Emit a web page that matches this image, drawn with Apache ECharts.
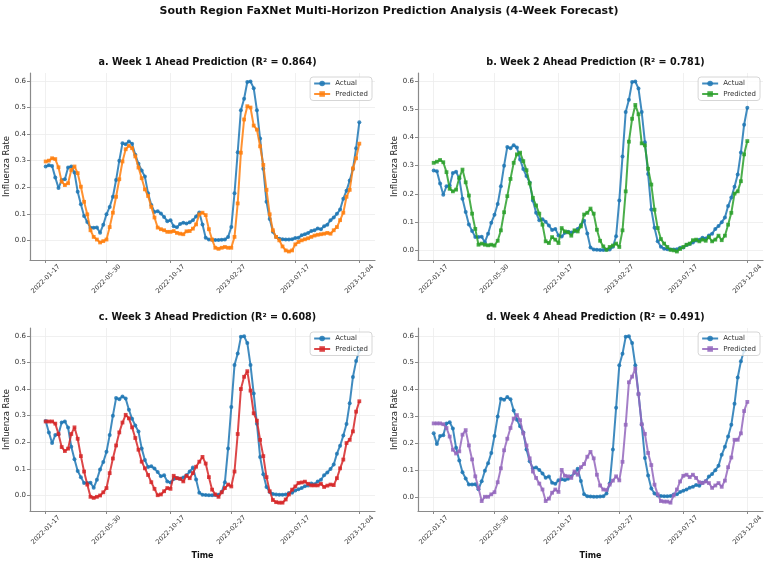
<!DOCTYPE html>
<html>
<head>
<meta charset="utf-8">
<script src="https://cdn.jsdelivr.net/npm/echarts@6/dist/echarts.min.js"></script>
<style>
html, body { margin: 0; padding: 0; background: #fff; }
#main { width: 767px; height: 561px; }
</style>
</head>
<body>
<div id="main"></div>
<script>
// weekly tick labels (index into the weekly series)
var dateTickIdx = [0, 19, 39, 58, 78, 98];
var dateLabels = ['2022-01-17', '2022-05-30', '2022-10-17', '2023-02-27', '2023-07-17', '2023-12-04'];
var yTicks = [0, 0.1, 0.2, 0.3, 0.4, 0.5, 0.6];

// observed rate, each horizon panel shows it shifted by (week - 1)
var actualAll = [
    0.278, 0.283, 0.280, 0.237, 0.197, 0.227, 0.230, 0.274, 0.278, 0.255,
    0.183, 0.136, 0.092, 0.069, 0.047, 0.047, 0.048, 0.029, 0.059, 0.098,
    0.126, 0.164, 0.227, 0.300, 0.366, 0.362, 0.372, 0.364, 0.322, 0.288,
    0.263, 0.240, 0.177, 0.133, 0.107, 0.110, 0.101, 0.088, 0.072, 0.076,
    0.053, 0.049, 0.062, 0.066, 0.063, 0.068, 0.076, 0.090, 0.105, 0.060,
    0.010, 0.003, 0.002, 0.001, 0.001, 0.002, 0.003, 0.013, 0.050, 0.177,
    0.332, 0.490, 0.533, 0.596, 0.598, 0.573, 0.490, 0.383, 0.270, 0.145,
    0.080, 0.032, 0.013, 0.006, 0.004, 0.003, 0.003, 0.004, 0.009, 0.010,
    0.019, 0.023, 0.028, 0.035, 0.038, 0.045, 0.042, 0.053, 0.059, 0.076,
    0.086, 0.100, 0.116, 0.157, 0.187, 0.225, 0.269, 0.347, 0.445, 0.505,
    0.545
];

var predWeek1 = [
    0.297, 0.300, 0.309, 0.306, 0.275, 0.221, 0.208, 0.215, 0.265, 0.278,
    0.253, 0.202, 0.145, 0.098, 0.038, 0.013, 0.003, -0.008, -0.003, 0.003,
    0.050, 0.104, 0.164, 0.230, 0.297, 0.343, 0.356, 0.347, 0.316, 0.274,
    0.234, 0.192, 0.167, 0.126, 0.086, 0.048, 0.042, 0.038, 0.032, 0.032,
    0.035, 0.028, 0.025, 0.023, 0.034, 0.035, 0.044, 0.060, 0.098, 0.104,
    0.095, 0.042, 0.003, -0.028, -0.032, -0.028, -0.025, -0.028, -0.028, 0.013,
    0.139, 0.330, 0.455, 0.505, 0.500, 0.432, 0.417, 0.354, 0.284, 0.190,
    0.098, 0.038, 0.013, 0.000, -0.023, -0.038, -0.042, -0.038, -0.015, -0.006,
    0.000, 0.004, 0.008, 0.013, 0.018, 0.021, 0.023, 0.025, 0.028, 0.025,
    0.038, 0.050, 0.076, 0.104, 0.164, 0.190, 0.271, 0.309, 0.364
];

var predWeek2 = [
    0.310, 0.314, 0.320, 0.312, 0.277, 0.218, 0.209, 0.215, 0.257, 0.286,
    0.241, 0.194, 0.130, 0.076, 0.020, 0.024, 0.020, 0.018, 0.020, 0.017,
    0.034, 0.071, 0.135, 0.192, 0.253, 0.310, 0.340, 0.346, 0.316, 0.284,
    0.237, 0.186, 0.159, 0.130, 0.091, 0.032, 0.026, 0.047, 0.038, 0.026,
    0.079, 0.067, 0.064, 0.052, 0.071, 0.067, 0.085, 0.127, 0.133, 0.148,
    0.130, 0.073, 0.034, 0.014, 0.002, 0.012, 0.017, 0.024, 0.012, 0.071,
    0.209, 0.385, 0.466, 0.515, 0.482, 0.379, 0.372, 0.289, 0.233, 0.144,
    0.079, 0.040, 0.024, 0.012, 0.002, 0.000, -0.004, 0.005, 0.012, 0.020,
    0.024, 0.036, 0.038, 0.032, 0.038, 0.034, 0.047, 0.032, 0.038, 0.052,
    0.036, 0.052, 0.091, 0.133, 0.201, 0.209, 0.245, 0.340, 0.387
];

var predWeek3 = [
    0.278, 0.278, 0.278, 0.270, 0.231, 0.182, 0.167, 0.176, 0.231, 0.256,
    0.213, 0.148, 0.090, 0.041, -0.005, -0.009, -0.005, 0.000, 0.012, 0.028,
    0.084, 0.139, 0.188, 0.237, 0.274, 0.303, 0.290, 0.256, 0.216, 0.172,
    0.127, 0.102, 0.077, 0.050, 0.025, 0.001, 0.004, 0.016, 0.028, 0.025,
    0.074, 0.065, 0.063, 0.053, 0.074, 0.065, 0.084, 0.108, 0.127, 0.145,
    0.120, 0.069, 0.022, 0.004, -0.005, 0.012, 0.028, 0.041, 0.034, 0.090,
    0.231, 0.400, 0.446, 0.467, 0.394, 0.309, 0.281, 0.209, 0.148, 0.069,
    0.016, -0.017, -0.025, -0.027, -0.027, -0.015, 0.004, 0.022, 0.034, 0.047,
    0.049, 0.052, 0.044, 0.038, 0.038, 0.038, 0.044, 0.032, 0.037, 0.041,
    0.039, 0.065, 0.102, 0.135, 0.197, 0.209, 0.241, 0.315, 0.354
];

var predWeek4 = [
    0.274, 0.274, 0.274, 0.271, 0.257, 0.225, 0.176, 0.162, 0.170, 0.232,
    0.249, 0.192, 0.140, 0.077, 0.034, -0.015, 0.001, 0.001, 0.010, 0.018,
    0.055, 0.107, 0.174, 0.217, 0.257, 0.292, 0.305, 0.286, 0.237, 0.192,
    0.144, 0.095, 0.071, 0.050, 0.028, -0.015, -0.006, 0.016, 0.028, 0.019,
    0.101, 0.079, 0.077, 0.071, 0.095, 0.083, 0.111, 0.123, 0.150, 0.168,
    0.144, 0.083, 0.043, 0.028, 0.026, 0.046, 0.061, 0.077, 0.062, 0.131,
    0.269, 0.427, 0.448, 0.478, 0.383, 0.271, 0.235, 0.164, 0.119, 0.046,
    0.010, -0.015, -0.017, -0.017, -0.021, 0.006, 0.028, 0.058, 0.079, 0.083,
    0.074, 0.083, 0.071, 0.055, 0.052, 0.058, 0.052, 0.034, 0.043, 0.052,
    0.038, 0.061, 0.111, 0.147, 0.213, 0.213, 0.237, 0.320, 0.354
];

var horizons = [
    { key: 'a', week: 1, r2: '0.864', pred: predWeek1, color: '#ff7f0e' },
    { key: 'b', week: 2, r2: '0.781', pred: predWeek2, color: '#2ca02c' },
    { key: 'c', week: 3, r2: '0.608', pred: predWeek3, color: '#d62728' },
    { key: 'd', week: 4, r2: '0.491', pred: predWeek4, color: '#9467bd' }
];
var actualColor = '#1f77b4';
var nPoints = predWeek1.length;

// panel boxes (left, top, width, height) in px
var boxes = [
    [30, 73, 345, 187],
    [418, 73, 345, 187],
    [30, 328, 345, 185],
    [418, 328, 345, 185]
];

var font = 'DejaVu Sans';
var axisGray = '#8a8a8a';
var chart = echarts.init(document.getElementById('main'));

function pairs(arr) {
    return arr.map(function (v, i) { return [i, v]; });
}

var option = {
    backgroundColor: '#fff',
    animation: false,
    title: [{
        text: 'South Region FaXNet Multi-Horizon Prediction Analysis (4-Week Forecast)',
        left: 384, top: 1, textAlign: 'center',
        textStyle: { fontFamily: font, fontSize: 11, fontWeight: 'bold', color: '#111' }
    }],
    grid: [], xAxis: [], yAxis: [], legend: [], series: []
};

horizons.forEach(function (h, k) {
    var b = boxes[k];
    var actual = actualAll.slice(h.week - 1, h.week - 1 + nPoints);
    var all = actual.concat(h.pred);
    var lo = Math.min.apply(null, all), hi = Math.max.apply(null, all);
    var pad = (hi - lo) * 0.05;
    var xpad = (nPoints - 1) * 0.05;
    var bottomRow = k >= 2;

    option.title.push({
        text: h.key + '. Week ' + h.week + ' Ahead Prediction (R\u00b2 = ' + h.r2 + ')',
        left: b[0] + b[2] / 2, top: b[1] - 21, textAlign: 'center',
        textStyle: { fontFamily: font, fontSize: 9.6, fontWeight: 'bold', color: '#111' }
    });

    option.grid.push({ left: b[0], top: b[1], width: b[2], height: b[3], containLabel: false });

    option.xAxis.push({
        type: 'value', gridIndex: k,
        min: -xpad, max: nPoints - 1 + xpad,
        name: bottomRow ? 'Time' : '',
        nameLocation: 'middle', nameGap: 41,
        nameTextStyle: { fontFamily: font, fontSize: 8, fontWeight: 'bold', color: '#111' },
        axisLine: { onZero: false, lineStyle: { color: axisGray, width: 1.2 } },
        axisTick: { show: true, length: 3, customValues: dateTickIdx, lineStyle: { color: axisGray } },
        axisLabel: {
            customValues: dateTickIdx, rotate: 45, margin: 19,
            align: 'center', verticalAlign: 'middle',
            fontFamily: font, fontSize: 6.5, color: '#333',
            formatter: function (v) {
                var j = dateTickIdx.indexOf(Math.round(v));
                return j >= 0 ? dateLabels[j] : '';
            }
        },
        splitLine: { show: true, lineStyle: { color: '#ececec', width: 0.8 } }
    });

    option.yAxis.push({
        type: 'value', gridIndex: k,
        min: lo - pad, max: hi + pad,
        name: 'Influenza Rate', nameLocation: 'middle', nameGap: 18.5,
        nameTextStyle: { fontFamily: font, fontSize: 8.5, color: '#222' },
        axisLine: { show: true, onZero: false, lineStyle: { color: axisGray, width: 1.2 } },
        axisTick: { show: true, length: 3, customValues: yTicks, lineStyle: { color: axisGray } },
        axisLabel: {
            customValues: yTicks, margin: 4,
            fontFamily: font, fontSize: 7, color: '#333',
            formatter: function (v) { return v.toFixed(1); }
        },
        splitLine: { show: true, lineStyle: { color: '#ececec', width: 0.8 } }
    });

    option.legend.push({
        data: ['Actual|' + h.key, 'Predicted|' + h.key],
        orient: 'vertical',
        right: 767 - (b[0] + b[2]) + 3, top: b[1] + 4,
        itemWidth: 16, itemHeight: 7, itemGap: 3.5,
        padding: [3, 4, 3, 3],
        backgroundColor: 'rgba(255,255,255,0.8)',
        borderColor: '#cccccc', borderWidth: 0.8, borderRadius: 3,
        textStyle: { fontFamily: font, fontSize: 7, color: '#333' },
        formatter: function (name) { return name.split('|')[0]; }
    });

    option.series.push({
        name: 'Actual|' + h.key, type: 'line',
        xAxisIndex: k, yAxisIndex: k,
        data: pairs(actual),
        symbol: 'circle', symbolSize: 4,
        lineStyle: { width: 2, color: actualColor, opacity: 0.85 },
        itemStyle: { color: actualColor, opacity: 0.85 },
        z: 3
    });
    option.series.push({
        name: 'Predicted|' + h.key, type: 'line',
        xAxisIndex: k, yAxisIndex: k,
        data: pairs(h.pred),
        symbol: 'rect', symbolSize: 3.8,
        lineStyle: { width: 2, color: h.color, opacity: 0.85 },
        itemStyle: { color: h.color, opacity: 0.85 },
        z: 4
    });
});

chart.setOption(option);
</script>
</body>
</html>
